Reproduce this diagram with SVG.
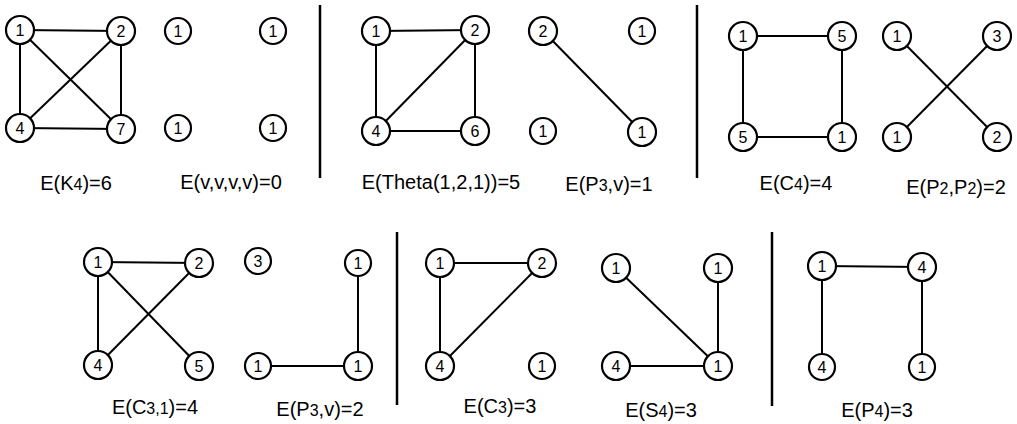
<svg xmlns="http://www.w3.org/2000/svg" width="1017" height="424" viewBox="0 0 1017 424">
<style>
.e{stroke:#000;stroke-width:2;fill:none}
.sep{stroke:#000;stroke-width:2.5}
.n circle{fill:#fff;stroke:#000;stroke-width:2.2}
.n text{font-family:"Liberation Sans",Arial,sans-serif;font-size:16px;text-anchor:middle;fill:#000}
.lbl{font-family:"Liberation Sans",Arial,sans-serif;font-size:20px;text-anchor:middle;fill:#000}
.sub{font-size:16px}
</style>
<rect width="1017" height="424" fill="#fff"/>
<g id="separators">
<line class="sep" x1="320" y1="5" x2="320" y2="178"/>
<line class="sep" x1="697" y1="5" x2="697" y2="178"/>
<line class="sep" x1="397" y1="232" x2="397" y2="405"/>
<line class="sep" x1="772" y1="232" x2="772" y2="406"/>
</g>
<g id="connectors">
<line class="e" x1="20" y1="30" x2="121" y2="31"/>
<line class="e" x1="20" y1="30" x2="20" y2="128"/>
<line class="e" x1="121" y1="31" x2="121" y2="129"/>
<line class="e" x1="20" y1="128" x2="121" y2="129"/>
<line class="e" x1="20" y1="30" x2="121" y2="129"/>
<line class="e" x1="121" y1="31" x2="20" y2="128"/>
<line class="e" x1="376" y1="31" x2="475" y2="30"/>
<line class="e" x1="376" y1="31" x2="376" y2="131"/>
<line class="e" x1="475" y1="30" x2="475" y2="131"/>
<line class="e" x1="376" y1="131" x2="475" y2="131"/>
<line class="e" x1="475" y1="30" x2="376" y2="131"/>
<line class="e" x1="543" y1="31" x2="642" y2="132"/>
<line class="e" x1="743" y1="36" x2="842" y2="36"/>
<line class="e" x1="743" y1="36" x2="743" y2="137"/>
<line class="e" x1="842" y1="36" x2="842" y2="137"/>
<line class="e" x1="743" y1="137" x2="842" y2="137"/>
<line class="e" x1="897" y1="36" x2="997" y2="137"/>
<line class="e" x1="997" y1="36" x2="897" y2="137"/>
<line class="e" x1="98" y1="262" x2="199" y2="263"/>
<line class="e" x1="98" y1="262" x2="98" y2="365"/>
<line class="e" x1="98" y1="262" x2="199" y2="366"/>
<line class="e" x1="199" y1="263" x2="98" y2="365"/>
<line class="e" x1="358" y1="263" x2="358" y2="366"/>
<line class="e" x1="258" y1="366" x2="358" y2="366"/>
<line class="e" x1="440" y1="263" x2="542" y2="263"/>
<line class="e" x1="440" y1="263" x2="440" y2="366"/>
<line class="e" x1="542" y1="263" x2="440" y2="366"/>
<line class="e" x1="616" y1="268" x2="718" y2="366"/>
<line class="e" x1="718" y1="268" x2="718" y2="366"/>
<line class="e" x1="616" y1="366" x2="718" y2="366"/>
<line class="e" x1="822" y1="266" x2="922" y2="267"/>
<line class="e" x1="822" y1="266" x2="822" y2="367"/>
<line class="e" x1="922" y1="267" x2="922" y2="367"/>
</g>
<g id="k4-a" class="n"><circle cx="20" cy="30" r="14"/><text x="20" y="36">1</text></g>
<g id="k4-b" class="n"><circle cx="121" cy="31" r="14"/><text x="121" y="37">2</text></g>
<g id="k4-c" class="n"><circle cx="20" cy="128" r="14"/><text x="20" y="134">4</text></g>
<g id="k4-d" class="n"><circle cx="121" cy="129" r="14"/><text x="121" y="135">7</text></g>
<g id="v4-a" class="n"><circle cx="178" cy="31" r="13"/><text x="178" y="37">1</text></g>
<g id="v4-b" class="n"><circle cx="273" cy="31" r="13"/><text x="273" y="37">1</text></g>
<g id="v4-c" class="n"><circle cx="178" cy="128" r="13"/><text x="178" y="134">1</text></g>
<g id="v4-d" class="n"><circle cx="273" cy="128" r="13"/><text x="273" y="134">1</text></g>
<g id="th-a" class="n"><circle cx="376" cy="31" r="14"/><text x="376" y="37">1</text></g>
<g id="th-b" class="n"><circle cx="475" cy="30" r="14"/><text x="475" y="36">2</text></g>
<g id="th-c" class="n"><circle cx="376" cy="131" r="14"/><text x="376" y="137">4</text></g>
<g id="th-d" class="n"><circle cx="475" cy="131" r="14"/><text x="475" y="137">6</text></g>
<g id="p3v1-a" class="n"><circle cx="543" cy="31" r="14"/><text x="543" y="37">2</text></g>
<g id="p3v1-b" class="n"><circle cx="642" cy="31" r="13"/><text x="642" y="37">1</text></g>
<g id="p3v1-c" class="n"><circle cx="543" cy="131" r="13"/><text x="543" y="137">1</text></g>
<g id="p3v1-d" class="n"><circle cx="642" cy="132" r="14"/><text x="642" y="138">1</text></g>
<g id="c4-a" class="n"><circle cx="743" cy="36" r="14"/><text x="743" y="42">1</text></g>
<g id="c4-b" class="n"><circle cx="842" cy="36" r="14"/><text x="842" y="42">5</text></g>
<g id="c4-c" class="n"><circle cx="743" cy="137" r="14"/><text x="743" y="143">5</text></g>
<g id="c4-d" class="n"><circle cx="842" cy="137" r="14"/><text x="842" y="143">1</text></g>
<g id="p2p2-a" class="n"><circle cx="897" cy="36" r="14"/><text x="897" y="42">1</text></g>
<g id="p2p2-b" class="n"><circle cx="997" cy="36" r="14"/><text x="997" y="42">3</text></g>
<g id="p2p2-c" class="n"><circle cx="897" cy="137" r="14"/><text x="897" y="143">1</text></g>
<g id="p2p2-d" class="n"><circle cx="997" cy="137" r="14"/><text x="997" y="143">2</text></g>
<g id="c31-a" class="n"><circle cx="98" cy="262" r="14"/><text x="98" y="268">1</text></g>
<g id="c31-b" class="n"><circle cx="199" cy="263" r="14"/><text x="199" y="269">2</text></g>
<g id="c31-c" class="n"><circle cx="98" cy="365" r="14"/><text x="98" y="371">4</text></g>
<g id="c31-d" class="n"><circle cx="199" cy="366" r="14"/><text x="199" y="372">5</text></g>
<g id="p3v2-a" class="n"><circle cx="258" cy="261" r="13"/><text x="258" y="267">3</text></g>
<g id="p3v2-b" class="n"><circle cx="358" cy="263" r="13"/><text x="358" y="269">1</text></g>
<g id="p3v2-c" class="n"><circle cx="258" cy="366" r="13"/><text x="258" y="372">1</text></g>
<g id="p3v2-d" class="n"><circle cx="358" cy="366" r="14"/><text x="358" y="372">1</text></g>
<g id="c3-a" class="n"><circle cx="440" cy="263" r="14"/><text x="440" y="269">1</text></g>
<g id="c3-b" class="n"><circle cx="542" cy="263" r="14"/><text x="542" y="269">2</text></g>
<g id="c3-c" class="n"><circle cx="440" cy="366" r="14"/><text x="440" y="372">4</text></g>
<g id="c3-d" class="n"><circle cx="542" cy="366" r="13"/><text x="542" y="372">1</text></g>
<g id="s4-a" class="n"><circle cx="616" cy="268" r="14"/><text x="616" y="274">1</text></g>
<g id="s4-b" class="n"><circle cx="718" cy="268" r="14"/><text x="718" y="274">1</text></g>
<g id="s4-c" class="n"><circle cx="616" cy="366" r="14"/><text x="616" y="372">4</text></g>
<g id="s4-d" class="n"><circle cx="718" cy="366" r="14"/><text x="718" y="372">1</text></g>
<g id="p4-a" class="n"><circle cx="822" cy="266" r="14"/><text x="822" y="272">1</text></g>
<g id="p4-b" class="n"><circle cx="922" cy="267" r="14"/><text x="922" y="273">4</text></g>
<g id="p4-c" class="n"><circle cx="822" cy="367" r="13"/><text x="822" y="373">4</text></g>
<g id="p4-d" class="n"><circle cx="922" cy="367" r="13"/><text x="922" y="373">1</text></g>
<g id="labels">
<text class="lbl" x="76" y="190">E(K<tspan class="sub">4</tspan>)=6</text>
<text class="lbl" x="231" y="189">E(v,v,v,v)=0</text>
<text class="lbl" x="441" y="189">E(Theta(1,2,1))=5</text>
<text class="lbl" x="609" y="191">E(P<tspan class="sub">3</tspan>,v)=1</text>
<text class="lbl" x="796" y="190">E(C<tspan class="sub">4</tspan>)=4</text>
<text class="lbl" x="956" y="194">E(P<tspan class="sub">2</tspan>,P<tspan class="sub">2</tspan>)=2</text>
<text class="lbl" x="155" y="414">E(C<tspan class="sub">3,1</tspan>)=4</text>
<text class="lbl" x="320" y="416">E(P<tspan class="sub">3</tspan>,v)=2</text>
<text class="lbl" x="500" y="413">E(C<tspan class="sub">3</tspan>)=3</text>
<text class="lbl" x="661" y="417">E(S<tspan class="sub">4</tspan>)=3</text>
<text class="lbl" x="877" y="417">E(P<tspan class="sub">4</tspan>)=3</text>
</g>
</svg>
